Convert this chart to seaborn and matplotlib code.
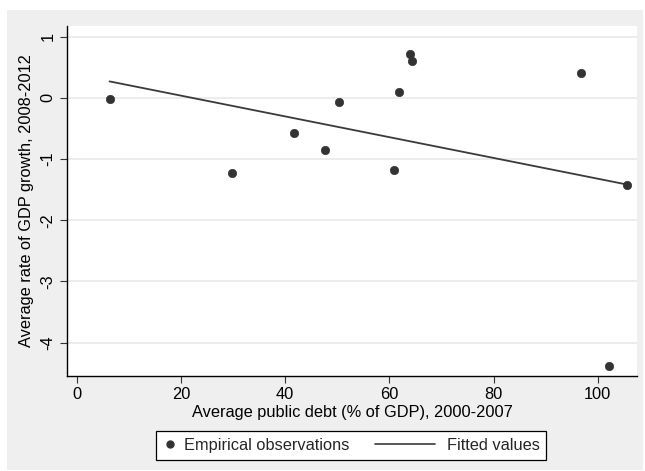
import matplotlib
matplotlib.use("Agg")
import matplotlib.pyplot as plt
from matplotlib.patches import Rectangle
from matplotlib.lines import Line2D
from matplotlib.legend_handler import HandlerLine2D
import numpy as np
import pandas as pd
import seaborn as sns

# Average public debt (% of GDP), 2000-2007
debt = [6.3, 29.9, 41.7, 47.7, 50.4, 61.85, 60.9, 63.9, 64.4, 96.7, 105.6, 102.2]
# Average rate of GDP growth, 2008-2012
growth = [-0.02, -1.22, -0.57, -0.855, -0.07, 0.09, -1.18, 0.71, 0.61, 0.41, -1.42, -4.38]

x_ticks = [0, 20, 40, 60, 80, 100]
y_ticks = [-4, -3, -2, -1, 0, 1]

df = pd.DataFrame({"debt": debt, "growth": growth})

sns.set_theme(style="white")
plt.rcParams["font.family"] = ["Liberation Sans", "DejaVu Sans"]
plt.rcParams["axes.unicode_minus"] = False

W, H = 645, 471
fig = plt.figure(figsize=(W / 100, H / 100), dpi=100)
fig.patch.set_facecolor("white")
fig.patches.append(Rectangle((7 / W, 1 - 470 / H), (643 - 7) / W, (470 - 10) / H,
                             transform=fig.transFigure, facecolor="#efefef",
                             edgecolor="none", zorder=-10))

ax = fig.add_axes([66.7 / W, 1 - 375.7 / H, (637.3 - 66.7) / W, (375.7 - 26) / H])
ax.set_facecolor("white")

mark_col = "#333333"
line_col = "#3a3a3a"
sns.regplot(data=df, x="debt", y="growth", ax=ax, scatter=False, ci=None,
            truncate=True, line_kws=dict(color=line_col, lw=1.3, zorder=3))
sns.scatterplot(data=df, x="debt", y="growth", ax=ax, color=mark_col, s=36,
                edgecolor=mark_col, linewidth=0.5, zorder=4)

ax.set_xlim(-1.92, 107.6)
ax.set_ylim(-4.54, 1.175)
ax.set_xticks(x_ticks)
ax.set_yticks(y_ticks)
ax.yaxis.grid(True, color="#eaeaea", lw=1.3)
ax.xaxis.grid(False)
ax.set_axisbelow(True)

for side in ["top", "right"]:
    ax.spines[side].set_visible(False)
for side in ["left", "bottom"]:
    ax.spines[side].set_color("black")
    ax.spines[side].set_linewidth(1.0)

fs = 11.8
ax.tick_params(axis="both", which="major", direction="out", length=5, width=0.8,
               color="#333333", labelsize=fs, labelcolor="black", bottom=True, left=True)
ax.tick_params(axis="x", pad=3)
ax.tick_params(axis="y", pad=3, labelrotation=90)
for lab in ax.get_yticklabels():
    lab.set_va("center")

ax.set_xlabel("Average public debt (% of GDP), 2000-2007", fontsize=fs, color="black", labelpad=2)
ax.set_ylabel("Average rate of GDP growth, 2008-2012", fontsize=fs, color="black", labelpad=5)


class LongLineHandler(HandlerLine2D):
    """Legend line that reaches further left than the handle box."""

    def create_artists(self, legend, orig_handle, xdescent, ydescent,
                       width, height, fontsize, trans):
        px = 72 / 100
        y = height / 2 - ydescent
        x1 = -xdescent + width - 7 * px
        x0 = x1 - 60 * px
        ln = Line2D([x0, x1], [y, y], color=orig_handle.get_color(),
                    lw=orig_handle.get_linewidth(), transform=trans)
        return [ln]


obs_handle = Line2D([], [], marker="o", color=mark_col, linestyle="none", markersize=5.0)
fit_handle = Line2D([], [], color=line_col, lw=1.2)
leg = fig.legend([obs_handle, fit_handle], ["Empirical observations", "Fitted values"],
                 loc="center", bbox_to_anchor=(351 / W, 1 - 445.5 / H), ncol=2, fontsize=fs,
                 frameon=True, fancybox=False, handlelength=1.0, handletextpad=0.3,
                 columnspacing=4.67, borderpad=0.4,
                 handler_map={fit_handle: LongLineHandler(),
                              obs_handle: HandlerLine2D(numpoints=1)})
leg.get_frame().set_edgecolor("black")
leg.get_frame().set_linewidth(0.9)
leg.get_frame().set_facecolor("white")
leg.get_frame().set_alpha(1)

fig.savefig("out.png", dpi=100)
